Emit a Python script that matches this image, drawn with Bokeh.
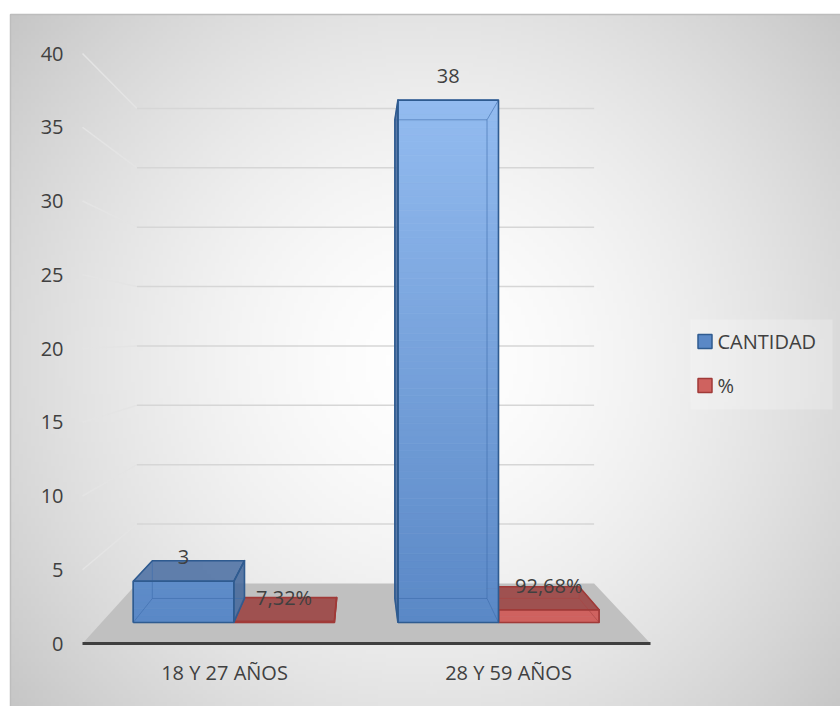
import numpy as np
from bokeh.plotting import figure
from bokeh.models import Range1d
from bokeh.core.properties import value
from bokeh.embed import file_html
from bokeh.resources import INLINE

# ---- data -------------------------------------------------------------
categories = ["18 Y 27 AÑOS", "28 Y 59 AÑOS"]
cantidad = [3, 38]
porcentaje = [7.32, 92.68]          # plotted on the same axis as fractions
series_names = ["CANTIDAD", "%"]
y_ticks = [0, 5, 10, 15, 20, 25, 30, 35, 40]

# ---- page / front-plane geometry -------------------------------------
W, H = 840, 706
X0_PX, CAT_PX = 82, 284        # left edge of the floor, width of one category
Y0_PX, UNIT_PX = 643, 14.75    # baseline and pixels per value unit
FONT = value("Open Sans")
TXT = "#404040"

# one-point perspective: vanishing point and depth scale of each plane
VP_C, VP_V = 0.982, 20.9
S_BAR_F, S_BAR_B, S_WALL = 0.932, 0.854, 0.805
BAR_W = 0.38


def proj(c, v, s):
    c = np.asarray(c, dtype=float)
    v = np.asarray(v, dtype=float)
    return VP_C + s * (c - VP_C), VP_V + s * (v - VP_V)


def px_x(px):
    return (px - X0_PX) / CAT_PX


def px_y(py):
    return (Y0_PX - py) / UNIT_PX


p = figure(width=W, height=H,
           x_range=Range1d(px_x(0), px_x(W)),
           y_range=Range1d(px_y(H), px_y(0)),
           output_backend="svg", toolbar_location=None,
           x_axis_location=None, y_axis_location=None,
           min_border=0, outline_line_color=None,
           background_fill_color="white", border_fill_color="white")
p.grid.grid_line_color = None

# ---- chart-area background: soft radial gradient ----------------------
h_img, w_img = 173, 208
sx = 10 + (np.arange(w_img) + 0.5) / w_img * (W - 10)
sy = H - (np.arange(h_img) + 0.5) / h_img * (H - 14)
SX, SY = np.meshgrid(sx, sy)
d = np.clip(np.hypot(SX - 430, SY - 360) / 560, 0, 1)
g = (255 - 60 * d ** 1.6).astype(np.uint8)
img = np.empty((h_img, w_img), dtype=np.uint32)
view = img.view(dtype=np.uint8).reshape((h_img, w_img, 4))
view[..., 0] = g
view[..., 1] = g
view[..., 2] = g
view[..., 3] = 255
p.image_rgba(image=[img], x=px_x(10), y=px_y(H),
             dw=px_x(W) - px_x(10), dh=px_y(14) - px_y(H))
p.line(x=[px_x(10), px_x(10), px_x(W)], y=[px_y(H), px_y(14), px_y(14)],
       line_color="#bdbdbd", line_width=1.5)

# ---- walls: gridlines on the back wall and the left side wall ---------
back_x, back_y, side_x, side_y = [], [], [], []
for t in y_ticks[1:]:
    bx, by = proj([0, 2], [t, t], S_WALL)
    back_x.append(list(bx)); back_y.append(list(by))
    fx, fy = proj(0, t, 1.0)
    wx, wy = proj(0, t, S_WALL)
    side_x.append([float(fx), float(wx)]); side_y.append([float(fy), float(wy)])
p.multi_line(xs=side_x, ys=side_y, line_color="#e4e4e4", line_width=1.5)
p.multi_line(xs=back_x, ys=back_y, line_color="#d6d6d6", line_width=1.5)

# ---- floor and category axis line ------------------------------------
fxs, fys = [], []
for c, s in [(0, 1.0), (2, 1.0), (2, S_WALL), (0, S_WALL)]:
    x, y = proj(c, 0, s)
    fxs.append(float(x)); fys.append(float(y))
p.patch(fxs, fys, fill_color="#c0c0c0", line_color=None)
p.line(x=[0, 2], y=[0, 0], line_color="#3f3f3f", line_width=3)

# ---- 3-D columns ------------------------------------------------------
STYLE = {
    "CANTIDAD": dict(lo="#5a88c6", hi="#96bef2", top="#4c70a3", side="#44689b",
                     edge="#2f5b90", hidden="#3d6dac", alpha=0.88),
    "%": dict(lo="#cf625f", hi="#d46a67", top="#9c4846", side="#a34745",
              edge="#a03a38", hidden="#a84442", alpha=0.92),
}


def lerp_hex(a, b, t):
    a = [int(a[i:i + 2], 16) for i in (1, 3, 5)]
    b = [int(b[i:i + 2], 16) for i in (1, 3, 5)]
    return "#%02x%02x%02x" % tuple(int(round(x + (y - x) * t)) for x, y in zip(a, b))


def pt(c, v, s):
    x, y = proj(c, v, s)
    return float(x), float(y)


def draw_box(c0, c1, v1, st):
    F, B = S_BAR_F, S_BAR_B
    faces = {
        "top": [pt(c0, v1, F), pt(c1, v1, F), pt(c1, v1, B), pt(c0, v1, B)],
        "left": [pt(c0, 0, F), pt(c0, v1, F), pt(c0, v1, B), pt(c0, 0, B)],
        "right": [pt(c1, 0, F), pt(c1, v1, F), pt(c1, v1, B), pt(c1, 0, B)],
    }
    visible = []
    if v1 < VP_V:
        visible.append("top")
    visible.append("left" if c0 > VP_C else "right")

    # visible side / top faces
    vx = [[q[0] for q in faces[k]] for k in visible]
    vy = [[q[1] for q in faces[k]] for k in visible]
    vc = [st["top"] if k == "top" else st["side"] for k in visible]
    p.patches(xs=vx, ys=vy, fill_color=vc, fill_alpha=st["alpha"], line_color=None)

    # front face, shaded from bottom to top
    n = max(1, int(np.ceil(v1 / 0.5)))
    edges_v = np.linspace(0, v1, n + 1)
    sxs, sys_, cols = [], [], []
    for a, b in zip(edges_v[:-1], edges_v[1:]):
        q = [pt(c0, a, F), pt(c1, a, F), pt(c1, b, F), pt(c0, b, F)]
        sxs.append([z[0] for z in q]); sys_.append([z[1] for z in q])
        cols.append(lerp_hex(st["lo"], st["hi"], min(1.0, (a + b) / 2 / 40)))
    p.patches(xs=sxs, ys=sys_, fill_color=cols, line_color=cols, line_width=0.8)

    # all twelve edges, seen through the translucent column
    ex, ey = [], []
    for s in (F, B):
        q = [pt(c0, 0, s), pt(c1, 0, s), pt(c1, v1, s), pt(c0, v1, s), pt(c0, 0, s)]
        ex.append([z[0] for z in q]); ey.append([z[1] for z in q])
    for cc in (c0, c1):
        for vv in (0, v1):
            a, b = pt(cc, vv, F), pt(cc, vv, B)
            ex.append([a[0], b[0]]); ey.append([a[1], b[1]])
    p.multi_line(xs=ex, ys=ey, line_color=st["hidden"], line_alpha=0.6, line_width=1)

    # outlines of the visible faces
    ox = [[q[0] for q in faces[k]] + [faces[k][0][0]] for k in visible]
    oy = [[q[1] for q in faces[k]] + [faces[k][0][1]] for k in visible]
    fq = [pt(c0, 0, F), pt(c1, 0, F), pt(c1, v1, F), pt(c0, v1, F), pt(c0, 0, F)]
    ox.append([z[0] for z in fq]); oy.append([z[1] for z in fq])
    p.multi_line(xs=ox, ys=oy, line_color=st["edge"], line_width=1.6, line_join="round")


label_x, label_y, label_t = [], [], []
for i, cat in enumerate(categories):
    centre = i + 0.5
    pct_v = porcentaje[i] / 100.0
    boxes = [
        ("%", centre, centre + BAR_W, pct_v, ("%.2f%%" % porcentaje[i]).replace(".", ",")),
        ("CANTIDAD", centre - BAR_W, centre, cantidad[i], str(cantidad[i])),
    ]
    for name, c0, c1, v1, lab in boxes:
        draw_box(c0, c1, v1, STYLE[name])
        lx, ly = pt((c0 + c1) / 2, v1, S_BAR_F)
        label_x.append(lx); label_y.append(ly + 24 / UNIT_PX); label_t.append(lab)

# ---- texts -------------------------------------------------------------
p.text(x=label_x, y=label_y, text=label_t, text_font=FONT, text_font_size="20px",
       text_color=TXT, text_align="center", text_baseline="middle")

p.text(x=[px_x(X0_PX - 19)] * len(y_ticks), y=y_ticks, text=[str(t) for t in y_ticks],
       text_font=FONT, text_font_size="20px", text_color=TXT,
       text_align="right", text_baseline="middle")

p.text(x=[i + 0.5 for i in range(len(categories))],
       y=[-29 / UNIT_PX] * len(categories), text=categories,
       text_font=FONT, text_font_size="20px", text_color=TXT,
       text_align="center", text_baseline="middle")

# ---- legend (drawn at the right edge of the chart area) ----------------
LEG_L, LEG_R, LEG_T, LEG_B = 690, 832, 319, 409
p.quad(left=px_x(LEG_L), right=px_x(LEG_R), top=px_y(LEG_T), bottom=px_y(LEG_B),
       fill_color="white", fill_alpha=0.22, line_color=None)
row_y = [px_y(341 + 44 * k) for k in range(len(series_names))]
p.rect(x=[px_x(704.5)] * len(series_names), y=row_y,
       width=14 / CAT_PX, height=14 / UNIT_PX,
       fill_color=[STYLE[n]["lo"] for n in series_names],
       line_color=[STYLE[n]["edge"] for n in series_names], line_width=1.5)
p.text(x=[px_x(717)] * len(series_names), y=row_y, text=series_names,
       text_font=FONT, text_font_size="20px", text_color=TXT,
       text_align="left", text_baseline="middle")

open("out.html", "w").write(file_html(p, INLINE, title="CANTIDAD"))
